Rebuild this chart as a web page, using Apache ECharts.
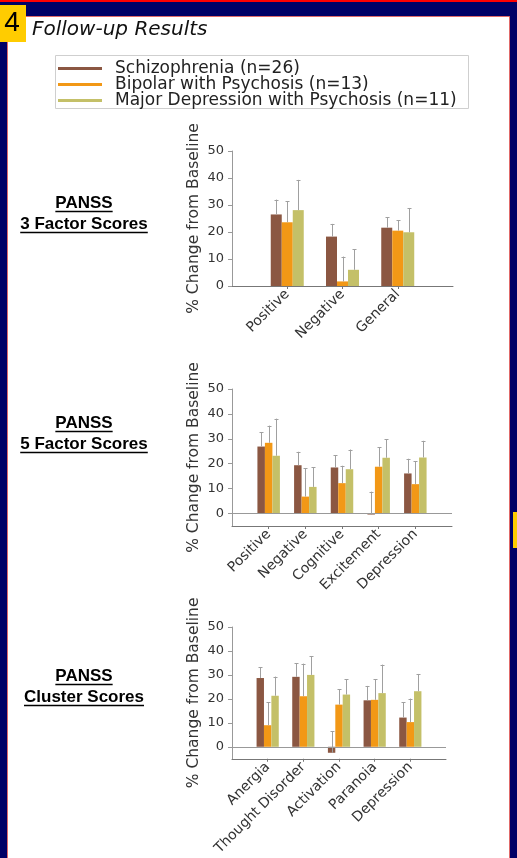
<!DOCTYPE html>
<html>
<head>
<meta charset="utf-8">
<script src="https://cdn.jsdelivr.net/npm/echarts@6/dist/echarts.min.js"></script>
<style>
html,body{margin:0;padding:0;background:#000066;}
#c{width:517px;height:858px;}
</style>
</head>
<body>
<div id="c"></div>
<script>
// ---------- data ----------
const seriesNames = ['Schizophrenia (n=26)', 'Bipolar with Psychosis (n=13)', 'Major Depression with Psychosis (n=11)'];
const yTicks = [0, 10, 20, 30, 40, 50];

// PANSS 3 factor
const cats3 = ['Positive', 'Negative', 'General'];
const sz3 = [26.5, 18.3, 21.6];
const szErr3 = [5.5, 4.7, 3.8];
const bp3 = [23.6, 1.7, 20.5];
const bpErr3 = [7.8, 9.2, 3.8];
const md3 = [28.1, 6.0, 19.9];
const mdErr3 = [11.2, 7.7, 9.0];

// PANSS 5 factor
const cats5 = ['Positive', 'Negative', 'Cognitive', 'Excitement', 'Depression'];
const sz5 = [26.9, 19.4, 18.5, -0.4, 16.1];
const szErr5 = [5.8, 5.4, 5.0, 9.2, 5.9];
const bp5 = [28.4, 6.8, 12.2, 18.8, 11.8];
const bpErr5 = [6.9, 11.3, 7.0, 7.9, 9.1];
const md5 = [23.2, 10.7, 17.8, 22.4, 22.5];
const mdErr5 = [14.9, 7.9, 7.9, 7.5, 6.7];

// PANSS cluster
const catsC = ['Anergia', 'Thought Disorder', 'Activation', 'Paranoia', 'Depression'];
const szC = [28.7, 29.2, -2.5, 19.4, 12.2];
const szErrC = [4.6, 5.7, 8.9, 6.0, 6.3];
const bpC = [9.0, 21.1, 17.6, 19.6, 10.3];
const bpErrC = [9.6, 13.6, 6.4, 8.5, 9.8];
const mdC = [21.3, 30.0, 21.8, 22.4, 23.2];
const mdErrC = [8.0, 7.9, 6.3, 11.9, 7.2];

// ---------- styles ----------
const colors = ['#8b5742', '#f29816', '#c4c068'];
const FONT = 'DejaVu Sans';
const panels = [
  {cats: cats3, vals: [sz3, bp3, md3], errs: [szErr3, bpErr3, mdErr3], left: 232, top: 151, width: 221, height: 135, min: 0, barW: 11, zero: false,
   label: ['PANSS', '3 Factor Scores'], labelY: 203},
  {cats: cats5, vals: [sz5, bp5, md5], errs: [szErr5, bpErr5, mdErr5], left: 232, top: 389, width: 220, height: 137, min: -5, barW: 7.5, zero: true,
   label: ['PANSS', '5 Factor Scores'], labelY: 423},
  {cats: catsC, vals: [szC, bpC, mdC], errs: [szErrC, bpErrC, mdErrC], left: 232, top: 627, width: 214, height: 132, min: -5, barW: 7.4, zero: true,
   label: ['PANSS', 'Cluster Scores'], labelY: 676}
];

const pad = (arr, a, b) => [a].concat(arr, [b]);

const grid = [], xAxis = [], yAxis = [], series = [];
panels.forEach((p, g) => {
  grid.push({left: p.left, top: p.top, width: p.width, height: p.height, containLabel: false});
  xAxis.push({
    type: 'category', gridIndex: g, data: pad(p.cats, '', ' '), boundaryGap: false,
    axisLine: {onZero: false, lineStyle: {color: '#777', width: 1}},
    axisTick: {show: true, length: 3, lineStyle: {color: '#777'}, interval: (i, v) => String(v).trim() !== ''},
    axisLabel: {interval: 0, rotate: 45, fontSize: 14, color: '#333', fontFamily: FONT, margin: 6},
    splitLine: {show: false}
  });
  yAxis.push({
    type: 'value', gridIndex: g, min: p.min, max: 50,
    name: '% Change from Baseline', nameLocation: 'middle', nameGap: 30,
    nameTextStyle: {fontSize: 15.5, color: '#333', fontFamily: FONT},
    axisLine: {show: true, lineStyle: {color: '#999'}},
    axisTick: {show: true, length: 4, lineStyle: {color: '#999'}, customValues: yTicks},
    axisLabel: {fontSize: 13, color: '#333', fontFamily: FONT, margin: 8, customValues: yTicks},
    splitLine: {show: false}
  });
  p.vals.forEach((vals, k) => {
    const s = {
      type: 'bar', name: seriesNames[k], xAxisIndex: g, yAxisIndex: g,
      data: pad(vals, null, null), barWidth: p.barW, barGap: '0%',
      itemStyle: {color: colors[k]}, silent: true
    };
    if (k === 0 && p.zero) {
      s.markLine = {silent: true, symbol: 'none', label: {show: false},
        lineStyle: {color: '#999', type: 'solid', width: 1}, data: [{yAxis: 0}]};
    }
    series.push(s);
    const offset = (k - 1) * p.barW;
    series.push({
      type: 'custom', xAxisIndex: g, yAxisIndex: g, silent: true, z: 5,
      data: vals.map((v, i) => [i + 1, v, v + p.errs[k][i]]),
      encode: {x: 0, y: [1, 2]},
      renderItem: (params, api) => {
        const a = api.coord([api.value(0), api.value(1)]);
        const b = api.coord([api.value(0), api.value(2)]);
        const x = Math.round(a[0] + offset) + 0.5;
        const st = {stroke: '#a0a0a0', lineWidth: 1};
        return {type: 'group', children: [
          {type: 'line', shape: {x1: x, y1: a[1], x2: x, y2: b[1]}, style: st},
          {type: 'line', shape: {x1: x - 2, y1: Math.round(b[1]) + 0.5, x2: x + 2, y2: Math.round(b[1]) + 0.5}, style: st}
        ]};
      }
    });
  });
});

// measure text for underlines
const ctx = document.createElement('canvas').getContext('2d');
const LFONT = 'bold 17px "Liberation Sans", Arial, sans-serif';
ctx.font = LFONT;

const graphic = [
  {type: 'rect', z: -100, shape: {x: 0, y: 0, width: 517, height: 2}, style: {fill: '#ff0000'}},
  {type: 'rect', z: -100, shape: {x: 7.5, y: 16.5, width: 502, height: 860}, style: {fill: '#ffffff', stroke: '#e06a6a', lineWidth: 1}},
  {type: 'rect', z: 10, shape: {x: 0, y: 5, width: 26, height: 37}, style: {fill: '#ffcc00'}},
  {type: 'text', z: 11, x: 12, y: 23, style: {text: '4', fontSize: 28, fontFamily: '"Liberation Sans", Arial', fill: '#000', align: 'center', verticalAlign: 'middle'}},
  {type: 'text', z: 11, x: 32, y: 30, style: {text: 'Follow-up Results', font: 'italic 20px "DejaVu Sans"', fill: '#111', align: 'left', verticalAlign: 'middle'}},
  {type: 'rect', z: -50, shape: {x: 55.5, y: 55.5, width: 413, height: 53}, style: {fill: '#ffffff', stroke: '#cfcfcf', lineWidth: 1}},
  {type: 'rect', z: 10, shape: {x: 513, y: 512, width: 4, height: 36}, style: {fill: '#ffcc00'}}
];
panels.forEach(p => {
  p.label.forEach((t, j) => {
    const y = p.labelY + j * 21;
    const w = ctx.measureText(t).width;
    graphic.push({type: 'text', z: 11, x: 84, y: y, style: {text: t, font: LFONT, fill: '#000', align: 'center', verticalAlign: 'middle'}});
    graphic.push({type: 'line', z: 11, shape: {x1: 84 - w / 2, y1: y + 8.5, x2: 84 + w / 2, y2: y + 8.5}, style: {stroke: '#000', lineWidth: 1.3}});
  });
});

const chart = echarts.init(document.getElementById('c'), null, {renderer: 'canvas'});
chart.setOption({
  animation: false,
  backgroundColor: '#000066',
  legend: {
    data: seriesNames, orient: 'vertical', left: 58, top: 60, itemGap: -1,
    icon: 'rect', itemWidth: 44, itemHeight: 3, padding: 0,
    selectedMode: false,
    textStyle: {fontSize: 17, color: '#222', fontFamily: FONT, lineHeight: 15, padding: [0, 0, 0, 8]}
  },
  grid, xAxis, yAxis, series, graphic
});
</script>
</body>
</html>
